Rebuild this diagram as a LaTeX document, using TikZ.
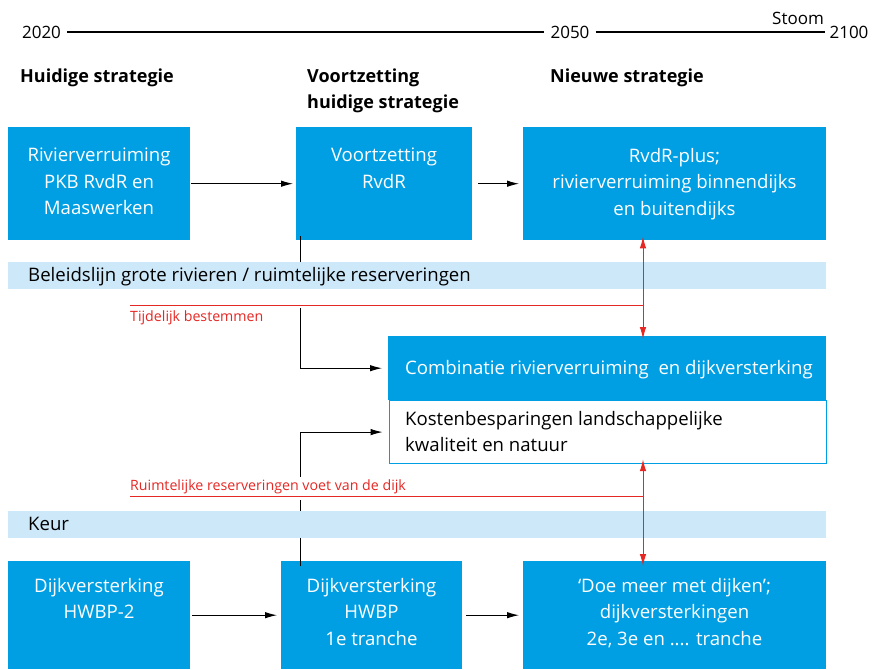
\documentclass[tikz,border=0pt]{standalone}
\usepackage{fontspec}
\setmainfont{Open Sans}
\usetikzlibrary{arrows.meta}
\definecolor{rblue}{RGB}{0,159,227}
\definecolor{rband}{RGB}{205,232,249}
\definecolor{rred}{RGB}{230,40,36}
\begin{document}
\begin{tikzpicture}[x=1pt,y=-1pt,
  bbox/.style={fill=rblue,draw=none,anchor=north west,inner sep=0pt},
  btext/.style={text=white,align=center,font=\fontsize{18.6}{26.5}\selectfont,anchor=north,inner sep=0pt},
  head/.style={font=\fontsize{18}{26}\selectfont\bfseries,anchor=base west,inner sep=0pt,align=left},
  year/.style={font=\fontsize{17}{18}\selectfont,inner sep=0pt,anchor=base},
  band/.style={fill=rband,draw=none,anchor=north west,inner sep=0pt,minimum width=818pt,minimum height=27pt},
  bandtext/.style={font=\fontsize{18.6}{20}\selectfont,anchor=base west,inner sep=0pt},
  redlab/.style={text=rred,font=\fontsize{14.2}{16}\selectfont,anchor=base west,inner sep=0pt},
  conn/.style={draw=black,line width=1pt,-{Latex[length=12pt,width=6.5pt]}},
  redl/.style={draw=rred,line width=1pt},
  redarr/.style={draw=rred,line width=1pt,{Latex[length=12pt,width=6.5pt]}-{Latex[length=12pt,width=6.5pt]}}
]
\useasboundingbox (0,0) rectangle (872,669);
\fill[white] (0,0) rectangle (872,669);

% timeline
\node[year] (y2020) at (41.5,38.5) {2020};
\node[year] (y2050) at (570,38.5) {2050};
\node[year] (y2100) at (849,38.5) {2100};
\node[year] (stoom) at (798,25) {Stoom};
\draw[line width=1.3pt] ([xshift=6pt]y2020.east |- 0,32) -- ([xshift=-6pt]y2050.west |- 0,32);
\draw[line width=1.3pt] ([xshift=6pt]y2050.east |- 0,32) -- ([xshift=-4pt]y2100.west |- 0,32);

% headers
\node[head] (h1) at (20,82) {Huidige strategie};
\node[head] (h2) at (307,108) {Voortzetting\\huidige strategie};
\node[head] (h3) at (550,82) {Nieuwe strategie};

% top boxes
\node[bbox,minimum width=182pt,minimum height=113pt] (b1) at (8,127) {};
\node[btext] at (99,148) {Rivierverruiming\\PKB RvdR en\\Maaswerken};
\node[bbox,minimum width=176pt,minimum height=113pt] (b2) at (296,127) {};
\node[btext] at (384,148) {Voortzetting\\RvdR};
\node[bbox,minimum width=303pt,minimum height=113pt] (b3) at (523,127) {};
\node[btext] at (674.5,148) {RvdR-plus;\\rivierverruiming binnendijks\\en buitendijks};

% bottom boxes
\node[bbox,minimum width=182pt,minimum height=108pt] (b4) at (8,561) {};
\node[btext] at (99,578) {Dijkversterking\\HWBP-2};
\node[bbox,minimum width=181pt,minimum height=108pt] (b5) at (281,561) {};
\node[btext] at (371.5,578) {Dijkversterking\\HWBP\\1e tranche};
\node[bbox,minimum width=303pt,minimum height=108pt] (b6) at (523,561) {};
\node[btext] at (674.5,578) {‘Doe meer met dijken’;\\dijkversterkingen\\2e, 3e en .... tranche};

% combination box
\node[bbox,minimum width=438pt,minimum height=64pt] (comb) at (388,336) {};
\node[text=white,font=\fontsize{18.6}{26}\selectfont,anchor=base west,inner sep=0pt] at (405,374) {Combinatie rivierverruiming\ \ en dijkversterking};
\node[draw=rblue,line width=1.2pt,fill=white,anchor=north west,inner sep=0pt,minimum width=437pt,minimum height=63pt] (kost) at (388.6,400) {};
\node[font=\fontsize{18.6}{26}\selectfont,anchor=base west,inner sep=0pt,align=left] at (405,451) {Kostenbesparingen landschappelijke\\kwaliteit en natuur};

% horizontal arrows
\draw[conn] ([xshift=1pt]b1.east) -- ([xshift=-3pt]b2.west);
\draw[conn] ([xshift=6pt]b2.east) -- ([xshift=-4pt]b3.west);
\draw[conn] ([xshift=2pt]b4.east) -- ([xshift=-4pt]b5.west);
\draw[conn] ([xshift=4pt]b5.east) -- ([xshift=-4pt]b6.west);

% vertical connectors
\draw[conn] ([xshift=4pt,yshift=4pt]b2.south west) |- ([xshift=-6pt]comb.west);
\draw[conn] ([xshift=19pt,yshift=-5pt]b5.north west) |- ([xshift=-6pt]kost.west);
\fill[white] (295,289) rectangle (305,308);
\fill[white] (295,477) rectangle (305,500);

% bands
\node[band] (band1) at (8,262) {};
\node[bandtext] at (28,281) {Beleidslijn grote rivieren / ruimtelijke reserveringen};
\node[band] (band2) at (8,511) {};
\node[bandtext] at (28,530) {Keur};

% red lines
\coordinate (r1) at (643,305);
\coordinate (r2) at (643,496);
\draw[redarr] ([yshift=4pt]b3.south -| r1) -- ([yshift=-3pt]comb.north -| r1);
\draw[redl] (130,305) -- (r1);
\node[redlab] at (130,321) {Tijdelijk bestemmen};
\draw[redarr] ([yshift=5pt]kost.south -| r2) -- ([yshift=-5pt]b6.north -| r2);
\draw[redl] (130,496) -- (r2);
\node[redlab] at (130,490) {Ruimtelijke reserveringen voet van de dijk};
\end{tikzpicture}
\end{document}
